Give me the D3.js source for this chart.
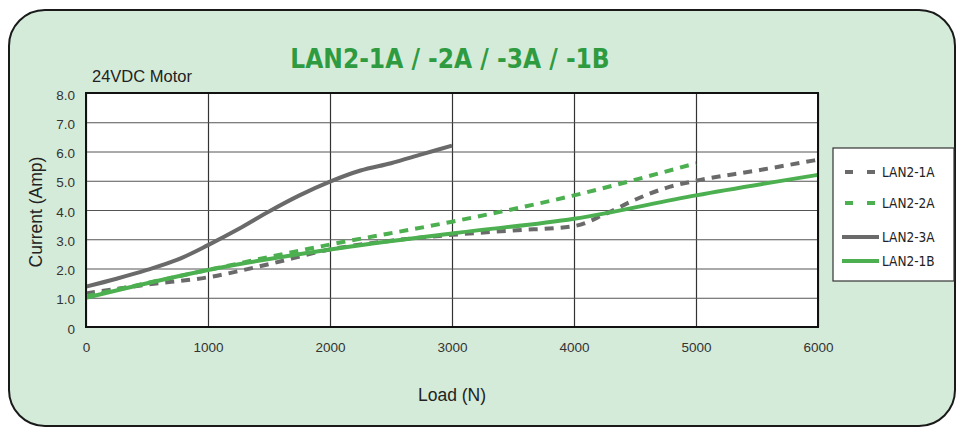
<!DOCTYPE html>
<html>
<head>
<meta charset="utf-8">
<script src="https://cdn.jsdelivr.net/npm/d3@7"></script>
<style>
  body { margin: 0; background: #fff; }
  text { font-family: "Liberation Sans", Arial, sans-serif; }
</style>
</head>
<body>
<svg id="chart"></svg>
<script>
// data
var loadLan1A = [0, 500, 1000, 1500, 2000, 2500, 3000, 3500, 4000, 4250, 4500, 4750, 5000, 5500, 6000];
var ampLan1A  = [1.15, 1.45, 1.7, 2.15, 2.65, 2.95, 3.15, 3.3, 3.45, 3.85, 4.35, 4.75, 5.0, 5.35, 5.72];
var loadLan2A = [0, 1000, 2000, 3000, 4000, 5000];
var ampLan2A  = [1.05, 1.95, 2.82, 3.6, 4.5, 5.6];
var loadLan3A = [0, 250, 500, 750, 1000, 1250, 1500, 1750, 2000, 2250, 2500, 2750, 3000];
var ampLan3A  = [1.38, 1.65, 1.95, 2.3, 2.8, 3.35, 3.95, 4.5, 4.97, 5.35, 5.6, 5.9, 6.2];
var loadLan1B = [0, 1000, 2000, 3000, 4000, 5000, 6000];
var ampLan1B  = [1.0, 1.95, 2.65, 3.2, 3.7, 4.5, 5.2];
var xTicks = [0, 1000, 2000, 3000, 4000, 5000, 6000];
var yTicks = [0, 1, 2, 3, 4, 5, 6, 7, 8];
var seriesNames = ["LAN2-1A", "LAN2-2A", "LAN2-3A", "LAN2-1B"];

var W = 959, H = 429;
var gray = "#6a6a6a", green = "#4caf50";

var series = [
    {name: seriesNames[0], color: gray,  dash: "9,7", xs: loadLan1A, ys: ampLan1A},
    {name: seriesNames[1], color: green, dash: "9,7", xs: loadLan2A, ys: ampLan2A},
    {name: seriesNames[2], color: gray,  dash: null,  xs: loadLan3A, ys: ampLan3A},
    {name: seriesNames[3], color: green, dash: null,  xs: loadLan1B, ys: ampLan1B}
];

var svg = d3.select("#chart")
    .attr("width", W)
    .attr("height", H);

// card background
svg.append("rect")
    .attr("x", 9).attr("y", 10)
    .attr("width", 946).attr("height", 416)
    .attr("rx", 36).attr("ry", 36)
    .attr("fill", "#d5ebd9")
    .attr("stroke", "#1a1a1a")
    .attr("stroke-width", 2);

var plot = {left: 86, top: 93, right: 818, bottom: 327};

var x = d3.scaleLinear().domain([0, 6000]).range([plot.left, plot.right]);
var y = d3.scaleLinear().domain([0, 8]).range([plot.bottom, plot.top]);

svg.append("rect")
    .attr("x", plot.left).attr("y", plot.top)
    .attr("width", plot.right - plot.left)
    .attr("height", plot.bottom - plot.top)
    .attr("fill", "#fff");

// gridlines
svg.append("g")
    .attr("transform", "translate(0," + plot.bottom + ")")
    .call(d3.axisBottom(x).tickValues(xTicks).tickSize(-(plot.bottom - plot.top)).tickFormat(""))
    .call(g => g.select(".domain").remove())
    .selectAll("line").attr("stroke", "#333").attr("stroke-width", 1.2);

svg.append("g")
    .attr("transform", "translate(" + plot.left + ",0)")
    .call(d3.axisLeft(y).tickValues(yTicks).tickSize(-(plot.right - plot.left)).tickFormat(""))
    .call(g => g.select(".domain").remove())
    .selectAll("line").attr("stroke", "#555").attr("stroke-width", 1);

// tick labels
svg.append("g")
    .attr("transform", "translate(0," + (plot.bottom + 12) + ")")
    .call(d3.axisBottom(x).tickValues(xTicks).tickSize(0).tickFormat(d3.format("d")))
    .call(g => g.select(".domain").remove())
    .selectAll("text")
    .style("font-family", "Liberation Sans, Arial, sans-serif")
    .style("font-size", "13.5px").attr("fill", "#333");

svg.append("g")
    .attr("transform", "translate(" + (plot.left - 8) + ",0)")
    .call(d3.axisLeft(y).tickValues(yTicks).tickSize(0)
        .tickFormat(function(d) { return d === 0 ? "0" : d3.format(".1f")(d); }))
    .call(g => g.select(".domain").remove())
    .selectAll("text")
    .attr("dy", "0.45em")
    .style("font-family", "Liberation Sans, Arial, sans-serif")
    .style("font-size", "13.5px").attr("fill", "#333");

// lines
var line = d3.line()
    .x(function(d) { return x(d[0]); })
    .y(function(d) { return y(d[1]); })
    .curve(d3.curveMonotoneX);

series.forEach(function(s) {
    var pts = s.xs.map(function(v, i) { return [v, s.ys[i]]; });
    svg.append("path")
        .datum(pts)
        .attr("fill", "none")
        .attr("stroke", s.color)
        .attr("stroke-width", 4)
        .attr("stroke-dasharray", s.dash)
        .attr("d", line);
});

// plot frame
svg.append("rect")
    .attr("x", plot.left).attr("y", plot.top)
    .attr("width", plot.right - plot.left)
    .attr("height", plot.bottom - plot.top)
    .attr("fill", "none")
    .attr("stroke", "#111")
    .attr("stroke-width", 2);

// titles
svg.append("text")
    .attr("x", 450).attr("y", 68)
    .attr("text-anchor", "middle")
    .style("font-family", "DejaVu Sans Condensed, DejaVu Sans, sans-serif")
    .style("font-weight", "bold")
    .style("font-size", "26px")
    .attr("fill", "#2f9b40")
    .text("LAN2-1A / -2A / -3A / -1B");

svg.append("text")
    .attr("x", 92).attr("y", 82)
    .style("font-size", "16.5px").attr("fill", "#222")
    .text("24VDC Motor");

svg.append("text")
    .attr("x", 452).attr("y", 401)
    .attr("text-anchor", "middle")
    .style("font-size", "17.5px").attr("fill", "#222")
    .text("Load (N)");

svg.append("text")
    .attr("transform", "translate(42,212) rotate(-90)")
    .attr("text-anchor", "middle")
    .style("font-size", "17.5px").attr("fill", "#222")
    .text("Current (Amp)");

// legend
var legendBox = svg.append("g").attr("transform", "translate(833,148)");
legendBox.append("rect")
    .attr("width", 121).attr("height", 133)
    .attr("fill", "#fff")
    .attr("stroke", "#333")
    .attr("stroke-width", 1.2);

var legendY = [24, 55, 89, 113];
var legend = legendBox.selectAll(".legend")
    .data(series)
    .enter().append("g")
    .attr("class", "legend")
    .attr("transform", function(d, i) { return "translate(0," + legendY[i] + ")"; });

legend.append("line")
    .attr("x1", function(d) { return d.dash ? 12 : 9; })
    .attr("x2", 46)
    .attr("stroke", function(d) { return d.color; })
    .attr("stroke-width", 4)
    .attr("stroke-dasharray", function(d) { return d.dash ? "8,14" : null; });

legend.append("text")
    .attr("x", 49)
    .attr("dy", "0.35em")
    .style("font-family", "DejaVu Sans Condensed, DejaVu Sans, sans-serif")
    .style("font-size", "13.5px")
    .attr("fill", "#222")
    .text(function(d) { return d.name; });
</script>
</body>
</html>
